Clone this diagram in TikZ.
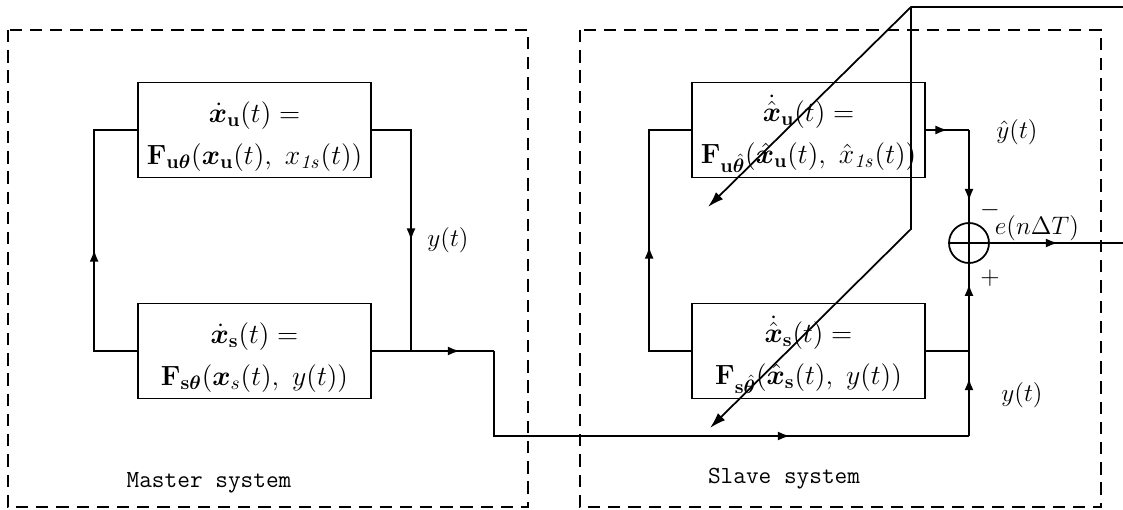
\RequirePackage{fix-cm}
\documentclass[tikz,border=0pt]{standalone}
\usepackage{amsmath,amssymb,bm}
\usetikzlibrary{positioning,arrows.meta,calc,decorations.markings}

\begin{document}
\begin{tikzpicture}[x=0.02cm,y=-0.02cm,>=Latex,line width=1pt,
  blockbox/.style={draw,line width=1pt,minimum width=4.66cm,minimum height=1.9cm,inner sep=0pt,align=center,font=\fontsize{15.8}{24}\selectfont},
  dashbox/.style={line width=1pt,dash pattern=on 7pt off 4.5pt},
  tipat/.style={postaction={decorate},decoration={markings,mark=at position #1 with {\arrow{Latex[length=2.4mm,width=1.8mm]}}}},
  lbl/.style={font=\fontsize{14.4}{18}\selectfont},
  syslbl/.style={font=\fontsize{14}{16}\selectfont\ttfamily}]
\useasboundingbox (0,0) rectangle (1123,510);
% ---- system frames ----
\draw[dashbox] (8,30) rectangle (528,507);
\draw[dashbox] (580,30) rectangle (1101,507);
% ---- blocks ----
\node[blockbox] (mu) at (254.5,130) {\rule{0pt}{19pt}$\dot{\bm x}_{\mathbf u}(t) =$\\$\mathbf F_{\mathbf u\bm\theta}(\bm x_{\mathbf u}(t),\ x_{\mathit{1s}}(t))$};
\node[blockbox] (ms) at (254.5,351) {\rule{0pt}{19pt}$\dot{\bm x}_{\mathbf s}(t) =$\\$\mathbf F_{\mathbf s\bm\theta}(\bm x_s(t),\ y(t))$};
\node[blockbox] (su) at (808.5,130) {\rule{0pt}{19pt}$\dot{\hat{\bm x}}_{\mathbf u}(t) =$\\$\mathbf F_{\mathbf u\hat{\bm\theta}}(\hat{\bm x}_{\mathbf u}(t),\ \hat x_{\mathit{1s}}(t))$};
\node[blockbox] (ss) at (808.5,351) {\rule{0pt}{19pt}$\dot{\hat{\bm x}}_{\mathbf s}(t) =$\\$\mathbf F_{\mathbf s\hat{\bm\theta}}(\hat{\bm x}_{\mathbf s}(t),\ y(t))$};
\node[circle,draw,line width=1pt,minimum size=0.8cm,inner sep=0pt] (sum) at (969,243) {};
% ---- master loop ----
\draw[tipat=0.47] (ms.west) -- ++(-43,0) |- (mu.west);
\coordinate (yj) at (411,351);
\draw[tipat=0.575] (mu.east) -| (yj);
\coordinate (mcorner) at (494,351);
\draw[tipat=0.72] (ms.east) -- (mcorner);
\coordinate (yin) at (969,436);
\draw[tipat=0.68] (mcorner) |- (yin);
% ---- slave loop ----
\coordinate (sj) at (969,351);
\draw[tipat=0.68] (yin) -- (sj);
\draw[tipat=0.77] (sj) -- (sum.south);
\draw (ss.east) -- (sj);
\draw[tipat=0.48] (ss.west) -- ++(-42,0) |- (su.west);
\coordinate (yhat) at (969,130);
\draw[tipat=0.5] (su.east) -- (yhat);
\draw[tipat=0.77] (yhat) -- (sum.north);
% ---- comparator ----
\draw (sum.north) -- (sum.south) (sum.west) -- (sum.east);
\coordinate (eout) at (1123,243);
\draw[tipat=0.51] (sum.east) -- (eout);
% ---- parameter update ----
\coordinate (fbin) at (1123,7);
\coordinate (fbtop) at (911,7);
\coordinate (fbmid) at (911,229);
\coordinate (tipu) at (708,207);
\coordinate (tips) at (710,428);
\draw[-{Latex[length=3.2mm,width=2mm]}] (fbin) -- (fbtop) -- (tipu);
\draw[-{Latex[length=3.2mm,width=2mm]}] (fbtop) -- (fbmid) -- (tips);
% ---- labels ----
\node[lbl] (ym) at (448,240) {$y(t)$};
\node[lbl] (yh) at (1017,132) {$\hat y(t)$};
\node[lbl] (minus) at (990,210) {$-$};
\node[lbl] (err) at (1037,228) {$e(n\Delta T)$};
\node[lbl] (plus) at (990,278) {$+$};
\node[lbl] (ys) at (1022,395) {$y(t)$};
\node[syslbl] (mlab) at (209,483) {Master system};
\node[syslbl] (slab) at (784,479) {Slave system};
\end{tikzpicture}
\end{document}
